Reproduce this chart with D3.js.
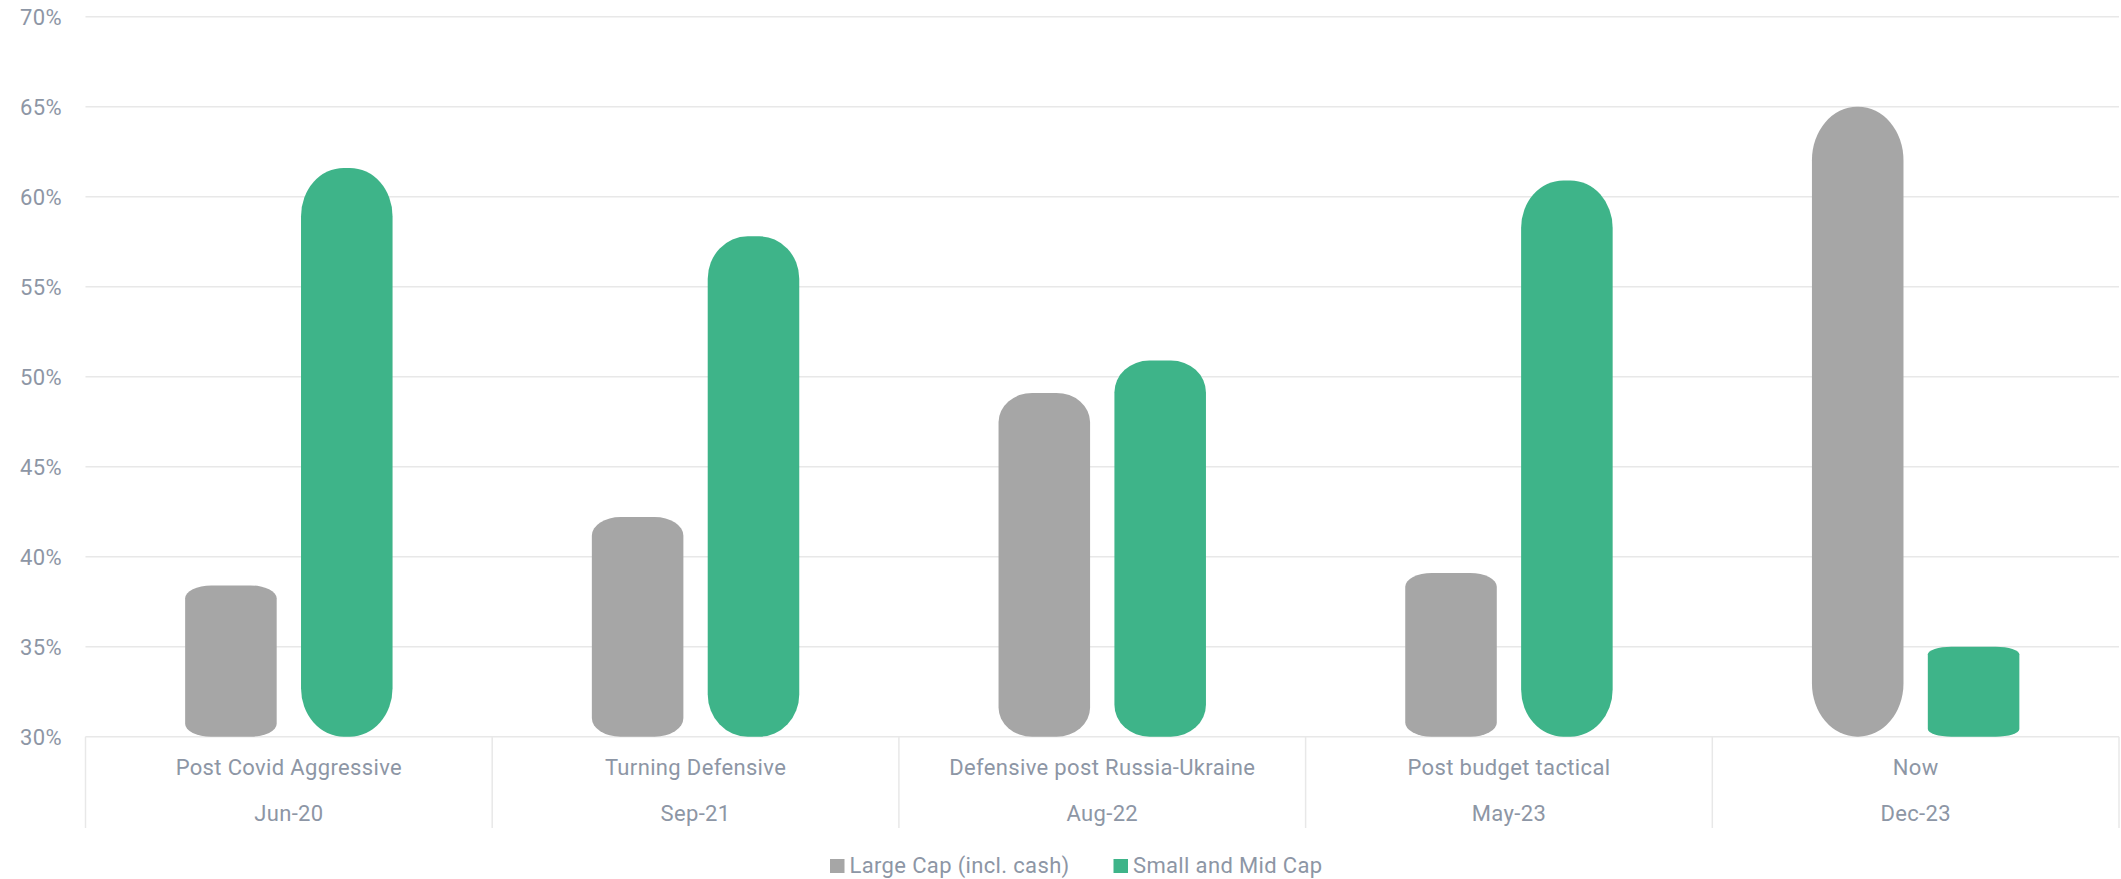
<!DOCTYPE html>
<html>
<head>
<meta charset="utf-8">
<script src="https://cdn.jsdelivr.net/npm/d3@7"></script>
<style>
  html, body { margin: 0; padding: 0; background: #ffffff; }
  svg { display: block; }
  text { font-family: Roboto, "Noto Sans", sans-serif; letter-spacing: 0.35px; }
</style>
</head>
<body>
<svg id="chart" width="2121" height="879"></svg>
<script>
// Allocation regimes
const phases = ["Post Covid Aggressive", "Turning Defensive", "Defensive post Russia-Ukraine", "Post budget tactical", "Now"];
const dates = ["Jun-20", "Sep-21", "Aug-22", "May-23", "Dec-23"];
const seriesNames = ["Large Cap (incl. cash)", "Small and Mid Cap"];
const largeCap = [38.4, 42.2, 49.1, 39.1, 65.0];
const smallMidCap = [61.6, 57.8, 50.9, 60.9, 35.0];
const yTicks = [30, 35, 40, 45, 50, 55, 60, 65, 70];

const colors = { "Large Cap (incl. cash)": "#a6a6a6", "Small and Mid Cap": "#3eb489" };
const textColor = "#8d96a5";
const gridColor = "#e8e8e8";

const svg = d3.select("#chart");
const plotLeft = 85.5, plotRight = 2119, plotTop = 16.7, plotBottom = 736.7;
const axisBoxBottom = 828;
const fontSize = 22;

const rows = dates.map((d, i) => ({
  date: d, phase: phases[i],
  values: [
    { key: seriesNames[0], value: largeCap[i] },
    { key: seriesNames[1], value: smallMidCap[i] }
  ]
}));

const x0 = d3.scaleBand().domain(dates).range([plotLeft, plotRight]).padding(0);
const bw = x0.bandwidth();
const x1 = d3.scaleBand().domain(seriesNames)
  .range([bw * 0.245, bw * 0.755]).paddingInner(0.21).paddingOuter(0);
const y = d3.scaleLinear().domain([30, 70]).range([plotBottom, plotTop]);

// horizontal gridlines
svg.append("g").selectAll("line").data(yTicks).join("line")
  .attr("x1", plotLeft).attr("x2", plotRight)
  .attr("y1", d => y(d)).attr("y2", d => y(d))
  .attr("stroke", gridColor).attr("stroke-width", 1.5);

// y tick labels
svg.append("g").selectAll("text").data(yTicks).join("text")
  .attr("x", 62).attr("y", d => y(d) + 8)
  .attr("text-anchor", "end")
  .attr("font-size", fontSize)
  .attr("fill", textColor)
  .text(d => d + "%");

// category box separators below the baseline
const bounds = dates.map(d => x0(d)).concat([plotRight]);
svg.append("g").selectAll("line").data(bounds).join("line")
  .attr("x1", d => d).attr("x2", d => d)
  .attr("y1", plotBottom).attr("y2", axisBoxBottom)
  .attr("stroke", gridColor).attr("stroke-width", 1.5);

// bars with soft rounded ends
const barHeight = d => y(30) - y(d.value);
const g = svg.append("g");
rows.forEach(r => {
  g.selectAll(null).data(r.values).join("rect")
    .attr("x", d => x0(r.date) + x1(d.key))
    .attr("width", x1.bandwidth())
    .attr("y", d => y(d.value))
    .attr("height", barHeight)
    .attr("rx", d => Math.min(x1.bandwidth() / 2, 20 + 0.04 * barHeight(d)))
    .attr("ry", d => Math.min(barHeight(d) / 2, 0.085 * barHeight(d)))
    .attr("fill", d => colors[d.key]);
});

// category labels
const labels = svg.append("g");
labels.selectAll("text.phase").data(rows).join("text")
  .attr("class", "phase")
  .attr("x", d => x0(d.date) + bw / 2).attr("y", 775)
  .attr("text-anchor", "middle").attr("font-size", fontSize).attr("fill", textColor)
  .text(d => d.phase);
labels.selectAll("text.date").data(rows).join("text")
  .attr("class", "date")
  .attr("x", d => x0(d.date) + bw / 2).attr("y", 821)
  .attr("text-anchor", "middle").attr("font-size", fontSize).attr("fill", textColor)
  .text(d => d.date);

// legend
const legendX = [830, 1113.5];
const legend = svg.append("g");
seriesNames.forEach((s, i) => {
  legend.append("rect")
    .attr("x", legendX[i]).attr("y", 859).attr("width", 14.5).attr("height", 14)
    .attr("fill", colors[s]);
  legend.append("text")
    .attr("x", legendX[i] + 19.5).attr("y", 872.5)
    .attr("font-size", fontSize).attr("fill", textColor)
    .text(s);
});
</script>
</body>
</html>
